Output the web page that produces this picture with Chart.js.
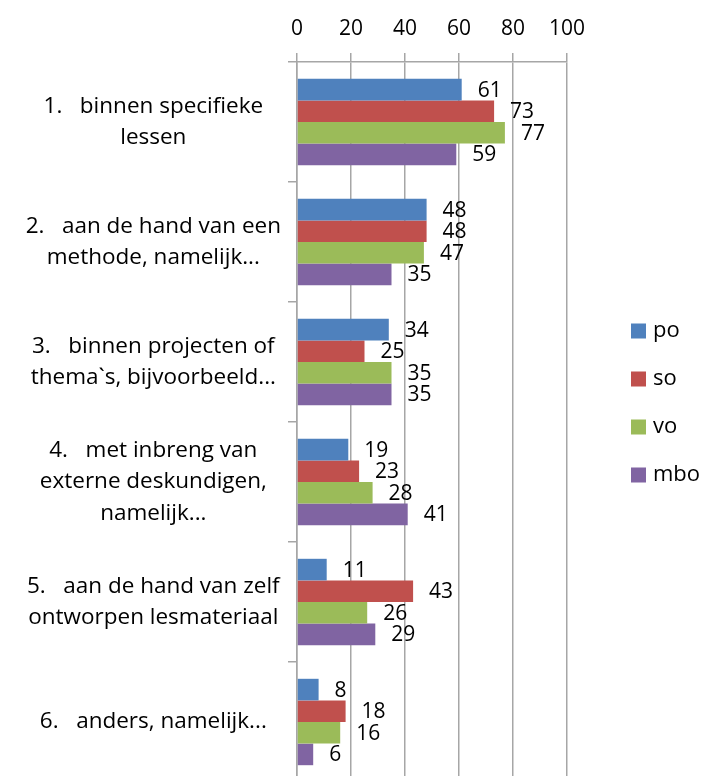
<!DOCTYPE html>
<html>
<head>
<meta charset="utf-8">
<script src="https://cdn.jsdelivr.net/npm/chart.js@4"></script>
<style>
  html, body { margin: 0; padding: 0; background: #fff; overflow: hidden; }
  #wrap { position: relative; width: 702px; height: 782px; }
</style>
</head>
<body>
<div id="wrap"><canvas id="chart"></canvas></div>
<script>
// categories (multi-line labels as Excel wrapped them)
const categories = [
    ['1.   binnen specifieke', 'lessen'],
    ['2.   aan de hand van een', 'methode, namelijk...'],
    ['3.   binnen projecten of', 'thema`s, bijvoorbeeld...'],
    ['4.   met inbreng van', 'externe deskundigen,', 'namelijk...'],
    ['5.   aan de hand van zelf', 'ontworpen lesmateriaal'],
    ['6.   anders, namelijk...']
];

const seriesNames = ['po', 'so', 'vo', 'mbo'];
const po = [61, 48, 34, 19, 11, 8];
const so = [73, 48, 25, 23, 43, 18];
const vo = [77, 47, 35, 28, 26, 16];
const mbo = [59, 35, 35, 41, 29, 6];
const xTicks = [0, 20, 40, 60, 80, 100];

const colors = ['#4F81BD', '#C0504D', '#9BBB59', '#8064A2'];
const FONT = '"Open Sans", "DejaVu Sans", sans-serif';

// value labels just right of each bar end
const valueLabels = {
    id: 'valueLabels',
    afterDatasetsDraw(chart) {
        const ctx = chart.ctx;
        ctx.save();
        ctx.font = '21px ' + FONT;
        ctx.fillStyle = '#000';
        ctx.textAlign = 'left';
        ctx.textBaseline = 'middle';
        chart.data.datasets.forEach((ds, i) => {
            chart.getDatasetMeta(i).data.forEach((bar, j) => {
                ctx.fillText(String(ds.data[j]), bar.x + 16, bar.y + 1);
            });
        });
        ctx.restore();
    }
};

// legend on the right, drawn from the datasets
const sideLegend = {
    id: 'sideLegend',
    afterDraw(chart) {
        const ctx = chart.ctx;
        const area = chart.chartArea;
        const x = area.right + 64;
        const y0 = 331;
        ctx.save();
        ctx.font = '22px ' + FONT;
        ctx.textAlign = 'left';
        ctx.textBaseline = 'middle';
        chart.data.datasets.forEach((ds, i) => {
            const y = y0 + i * 48;
            ctx.fillStyle = ds.backgroundColor;
            ctx.fillRect(x, y - 7.5, 15, 15);
            ctx.fillStyle = '#000';
            ctx.fillText(ds.label, x + 22, y);
        });
        ctx.restore();
    }
};

const ctx = document.getElementById('chart').getContext('2d');
new Chart(ctx, {
    type: 'bar',
    data: {
        labels: categories,
        datasets: [
            { label: seriesNames[0], data: po, backgroundColor: colors[0] },
            { label: seriesNames[1], data: so, backgroundColor: colors[1] },
            { label: seriesNames[2], data: vo, backgroundColor: colors[2] },
            { label: seriesNames[3], data: mbo, backgroundColor: colors[3] }
        ]
    },
    options: {
        indexAxis: 'y',
        responsive: true,
        maintainAspectRatio: false,
        animation: false,
        datasets: {
            bar: { categoryPercentage: 0.72, barPercentage: 1.0 }
        },
        layout: { padding: { top: 0, right: 135, bottom: 0, left: 0 } },
        plugins: {
            legend: { display: false },
            tooltip: { enabled: false }
        },
        scales: {
            x: {
                position: 'top',
                min: 0,
                max: 100,
                afterBuildTicks: (scale) => {
                    scale.ticks = xTicks.map(v => ({ value: v }));
                },
                afterFit: (scale) => { scale.height = 62; },
                grid: { color: '#A6A6A6', lineWidth: 1.5, tickLength: 9 },
                border: { color: '#A6A6A6', width: 1.5 },
                ticks: {
                    color: '#000',
                    padding: 11,
                    maxRotation: 0,
                    font: { family: FONT, size: 21 }
                }
            },
            y: {
                afterFit: (scale) => {
                    scale.width = 297;
                    // Excel lets the last band run to the bottom edge
                    scale.paddingTop = 0;
                    scale.paddingBottom = 0;
                },
                grid: {
                    drawOnChartArea: false,
                    color: '#A6A6A6',
                    lineWidth: 1.5,
                    tickLength: 9,
                    offset: true
                },
                border: { color: '#A6A6A6', width: 1.5 },
                ticks: {
                    color: '#000',
                    padding: 7,
                    crossAlign: 'center',
                    autoSkip: false,
                    font: { family: FONT, size: 22.5, lineHeight: 1.4 }
                }
            }
        }
    },
    plugins: [valueLabels, sideLegend]
});
</script>
</body>
</html>
